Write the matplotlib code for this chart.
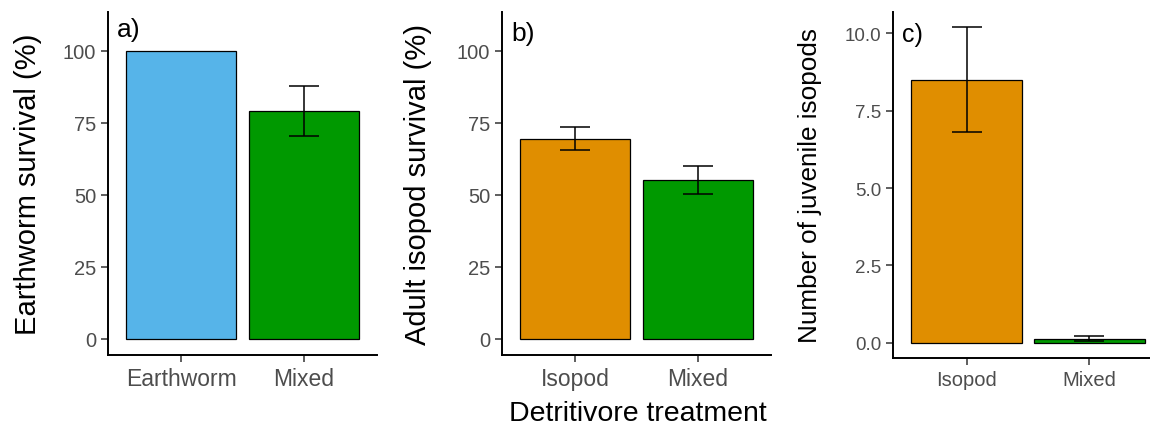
import matplotlib.pyplot as plt

plt.rcParams['font.family'] = ['Liberation Sans', 'DejaVu Sans']

# panel a: earthworm survival
a_groups = ['Earthworm', 'Mixed']
a_mean = [100.0, 79.0]
a_low = [100.0, 70.5]
a_high = [100.0, 87.8]

# panel b: adult isopod survival
b_groups = ['Isopod', 'Mixed']
b_mean = [69.5, 55.2]
b_low = [65.7, 50.2]
b_high = [73.6, 60.0]

# panel c: juvenile isopods
c_groups = ['Isopod', 'Mixed']
c_mean = [8.5, 0.12]
c_low = [6.8, 0.05]
c_high = [10.2, 0.24]

col_blue = '#56B4E9'
col_orange = '#E08E00'
col_green = '#009900'
tick_grey = '#4D4D4D'

fig = plt.figure(figsize=(11.5, 4.27), dpi=100)
ax_a = fig.add_axes([0.0939, 0.1663, 0.2339, 0.8033])
ax_b = fig.add_axes([0.4365, 0.1663, 0.2339, 0.8033])
ax_c = fig.add_axes([0.7765, 0.1593, 0.2348, 0.8103])


def draw_panel(ax, groups, mean, low, high, colors, ylim, ticks, ticklabels,
               ytick_fs, xtick_fs, ylabel, ylabel_fs, ylab_x,
               letter, letter_fs, letter_y):
    x = [1, 2]
    ax.bar(x, mean, width=0.9, color=colors, edgecolor='black', linewidth=0.9,
           zorder=2)
    # skip error bars with zero spread
    keep = [i for i in range(len(x)) if high[i] > low[i]]
    ex = [x[i] for i in keep]
    em = [mean[i] for i in keep]
    yerr = [[mean[i] - low[i] for i in keep], [high[i] - mean[i] for i in keep]]
    ax.errorbar(ex, em, yerr=yerr, fmt='none', ecolor='black', elinewidth=1.1,
                capsize=10.8, capthick=1.1, zorder=3)
    ax.set_xlim(0.4, 2.6)
    ax.set_ylim(*ylim)
    ax.set_xticks(x)
    ax.set_xticklabels(groups)
    ax.set_yticks(ticks)
    ax.set_yticklabels(ticklabels)
    for side in ['top', 'right']:
        ax.spines[side].set_visible(False)
    for side in ['left', 'bottom']:
        ax.spines[side].set_linewidth(1.4)
        ax.spines[side].set_color('black')
    ax.tick_params(axis='both', length=5, width=1.1, color='#333333',
                   labelcolor=tick_grey, pad=3.5)
    ax.tick_params(axis='y', labelsize=ytick_fs)
    ax.tick_params(axis='x', labelsize=xtick_fs)
    ax.set_ylabel(ylabel, fontsize=ylabel_fs, color='black')
    ax.yaxis.set_label_coords(ylab_x, 0.5)
    ax.text(0.033, letter_y, letter, transform=ax.transAxes, fontsize=letter_fs,
            ha='left', va='top', color='black')


draw_panel(ax_a, a_groups, a_mean, a_low, a_high, [col_blue, col_green],
           (-5.56, 113.5), [0, 25, 50, 75, 100], ['0', '25', '50', '75', '100'],
           14.5, 16.5, 'Earthworm survival (%)', 21, -0.245, 'a)', 19, 0.985)
draw_panel(ax_b, b_groups, b_mean, b_low, b_high, [col_orange, col_green],
           (-5.56, 113.5), [0, 25, 50, 75, 100], ['0', '25', '50', '75', '100'],
           14.5, 16.5, 'Adult isopod survival (%)', 21, -0.262, 'b)', 19, 0.975)
draw_panel(ax_c, c_groups, c_mean, c_low, c_high, [col_orange, col_green],
           (-0.484, 10.68), [0, 2.5, 5.0, 7.5, 10.0],
           ['0.0', '2.5', '5.0', '7.5', '10.0'],
           13.5, 14.5, 'Number of juvenile isopods', 18.8, -0.262, 'c)', 18, 0.97)

ax_b.set_xlabel('Detritivore treatment', fontsize=20.5, color='black')
ax_b.xaxis.set_label_coords(0.506, -0.13)

fig.savefig('out.png', dpi=100)
